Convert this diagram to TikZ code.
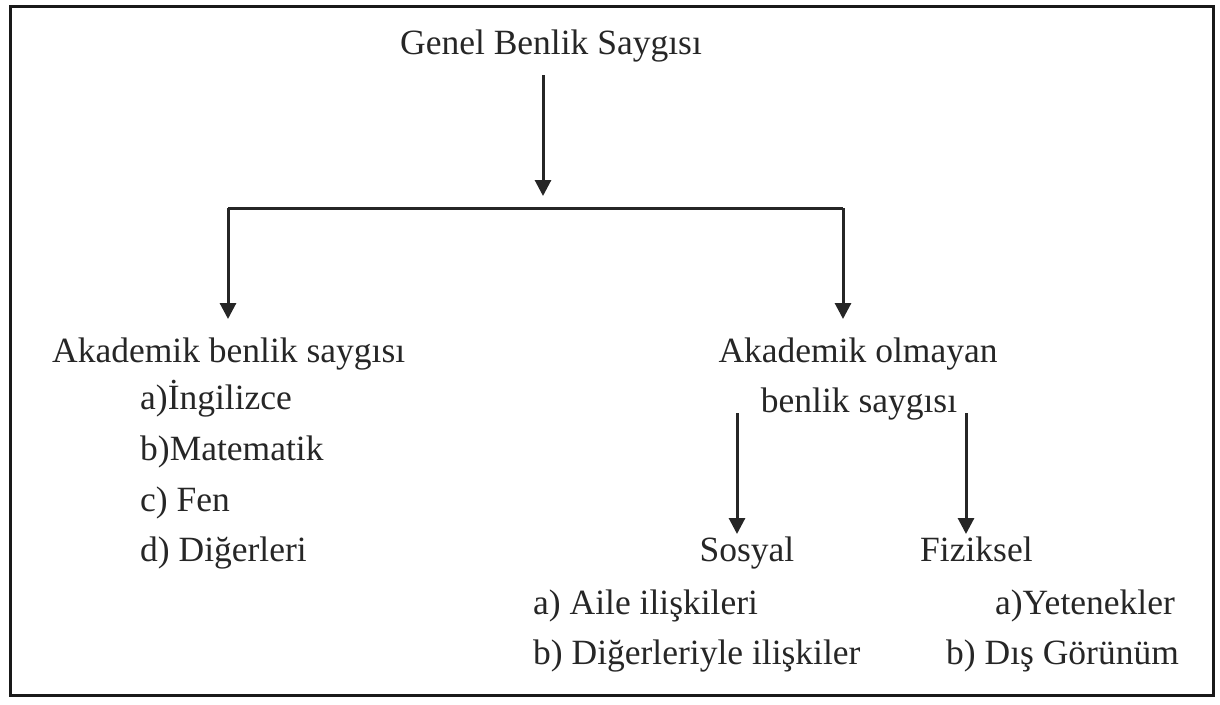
\documentclass[tikz,border=0pt]{standalone}
\usepackage{fontspec}
\setmainfont{Liberation Serif}
\usetikzlibrary{arrows.meta}
\begin{document}
\begin{tikzpicture}[x=1pt,y=-1pt,
  lbl/.style={inner sep=0pt,text=black!85,font=\fontsize{35.5}{42}\selectfont},
  conn/.style={line width=3pt,draw=black!85},
  arr/.style={conn,-{Triangle[length=16pt,width=16pt]}},
  frame/.style={line width=3pt,draw=black!90}]
\useasboundingbox (0,0) rectangle (1220,704);
\draw[frame] (10,6) rectangle (1213,695);
% texts
\node[lbl,anchor=base] (genel) at (551,54) {Genel Benlik Saygısı};
\node[lbl,anchor=base west] (akad) at (52,362) {Akademik benlik saygısı};
\node[lbl,anchor=base west] (ing) at (140,409) {a)İngilizce};
\node[lbl,anchor=base west] (mat) at (140,460) {b)Matematik};
\node[lbl,anchor=base west] (fen) at (140,511) {c) Fen};
\node[lbl,anchor=base west] (dig) at (140,561) {d) Diğerleri};
\node[lbl,anchor=base] (nak1) at (858,362) {Akademik olmayan};
\node[lbl,anchor=base] (nak2) at (859,412) {benlik saygısı};
\node[lbl,anchor=base] (sos) at (747,561) {Sosyal};
\node[lbl,anchor=base west] (fiz) at (920,561) {Fiziksel};
\node[lbl,anchor=base west] (aile) at (533,614) {a) Aile ilişkileri};
\node[lbl,anchor=base west] (digi) at (533,664) {b) Diğerleriyle ilişkiler};
\node[lbl,anchor=base east] (yet) at (1175,614) {a)Yetenekler};
\node[lbl,anchor=base west] (dis) at (946,664) {b) Dış Görünüm};
% connector points
\coordinate (g0) at (543,75);
\coordinate (g1) at (543,196);
\coordinate (hl) at (228,208);
\coordinate (hr) at (843,208);
\coordinate (al) at (228,319);
\coordinate (ar) at (843,319);
\coordinate (s0) at (737,413);
\coordinate (s1) at (737,534);
\coordinate (f0) at (966,413);
\coordinate (f1) at (966,534);
% connectors
\draw[arr] (g0) -- (g1);
\draw[conn] (hl) -- (hr);
\draw[arr] (hl) -- (al);
\draw[arr] (hr) -- (ar);
\draw[arr] (s0) -- (s1);
\draw[arr] (f0) -- (f1);
\end{tikzpicture}
\end{document}
